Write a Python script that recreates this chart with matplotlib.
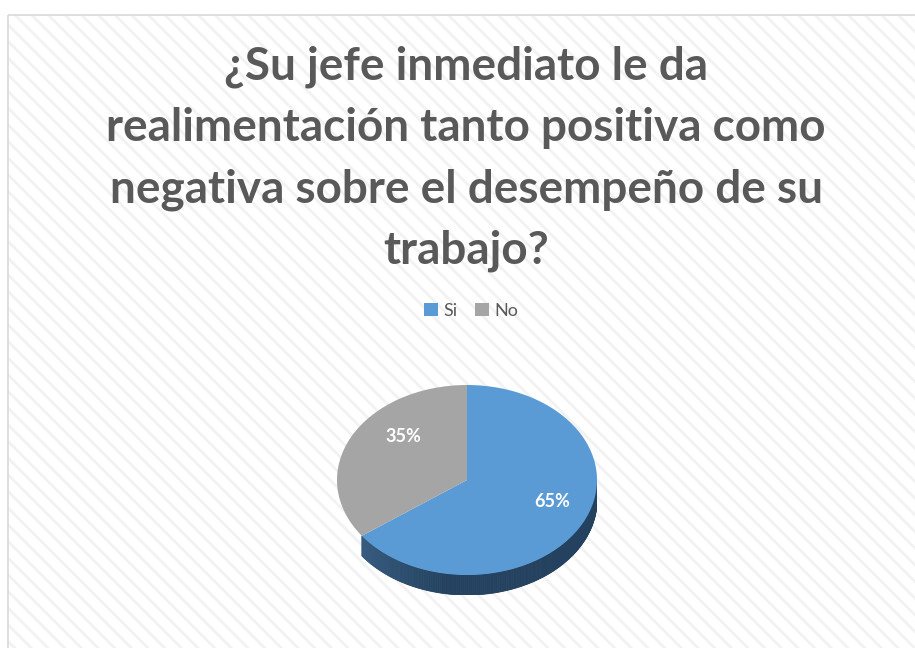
import numpy as np
import matplotlib
matplotlib.use("Agg")
from matplotlib import pyplot as plt
from matplotlib.patches import Rectangle, Polygon

TITLE = "¿Su jefe inmediato le da\nrealimentación tanto positiva como\nnegativa sobre el desempeño de su\ntrabajo?"
labels = ["Si", "No"]
values = [65, 35]
colors = ["#5b9bd5", "#a5a5a5"]
side_colors = ["#24425f", None]  # side of the grey slice is hidden by the tilt

W, H = 915, 648
fig = plt.figure(figsize=(W / 100, H / 100), dpi=100)
fig.patch.set_facecolor("white")

# background panel with diagonal stripes
plt.rcParams["hatch.linewidth"] = 2.0
bg = fig.add_axes([0, 0, 1, 1])
bg.set_xlim(0, W)
bg.set_ylim(H, 0)
bg.axis("off")
bg.add_patch(Rectangle((8, 15), W, H, facecolor="white", edgecolor="#f2f2f2",
                       hatch="\\\\", linewidth=0))
bg.add_patch(Rectangle((8, 15), W, H, facecolor="none", edgecolor="#d9d9d9", linewidth=1.2))

fig.text(466 / W, 1 - 159 / H, TITLE, ha="center", va="center", fontsize=33,
         fontweight="bold", color="#595959", family="Lato", linespacing=1.56)

# pie: top face ellipse + side band
rx, ry, depth = 130, 95, 20
cx, top = 467, 385
d = depth / ry
ax = fig.add_axes([(cx - rx) / W, 1 - (top + 2 * ry + depth) / H, 2 * rx / W, (2 * ry + depth) / H])

fracs = np.array(values) / sum(values)
bounds = 90 - 360 * np.concatenate([[0], np.cumsum(fracs)])
for i in range(len(values)):
    if side_colors[i] is None:
        continue
    # side visible only for the lower half (180..360 deg)
    seg = np.linspace(bounds[i + 1], bounds[i], 400) % 360
    seg = np.sort(seg[(seg >= 180) & (seg <= 360)])
    if len(seg) < 2:
        continue
    th = np.radians(seg)
    base = np.array(matplotlib.colors.to_rgb(side_colors[i]))
    for k in range(len(th) - 1):
        t0, t1 = th[k], th[k + 1]
        light = max(0.0, 1 - (t0 - np.pi) / (0.45 * np.pi))
        col = np.clip(base + light * np.array([0.14, 0.18, 0.24]), 0, 1)
        pts = [(np.cos(t0), np.sin(t0)), (np.cos(t1), np.sin(t1)),
               (np.cos(t1), np.sin(t1) - d), (np.cos(t0), np.sin(t0) - d)]
        ax.add_patch(Polygon(pts, closed=True, facecolor=col, edgecolor=col, linewidth=0.6))

wedges, texts, autotexts = ax.pie(values, colors=colors, startangle=90, counterclock=False,
                                  autopct="%1.0f%%", pctdistance=0.68,
                                  wedgeprops=dict(linewidth=0),
                                  textprops=dict(color="white", fontsize=13, fontweight="bold", family="Lato"))
ax.set_aspect("auto")
ax.set_xlim(-1, 1)
ax.set_ylim(-1 - d, 1)
ax.axis("off")
autotexts[1].set_position((autotexts[1].get_position()[0] + 0.12, autotexts[1].get_position()[1] + 0.15))
autotexts[0].set_position((autotexts[0].get_position()[0] + 0.05, autotexts[0].get_position()[1] + 0.08))

handles = [Rectangle((0, 0), 1, 1, facecolor=c) for c in colors]
fig.legend(handles, labels, loc="center", bbox_to_anchor=(471 / W, 1 - 311 / H), ncol=2,
           frameon=False, handlelength=0.75, handleheight=0.75, handletextpad=0.3,
           columnspacing=1.0, labelcolor="#595959", prop=dict(family="Lato", size=13))

fig.savefig("out.png", dpi=100)
